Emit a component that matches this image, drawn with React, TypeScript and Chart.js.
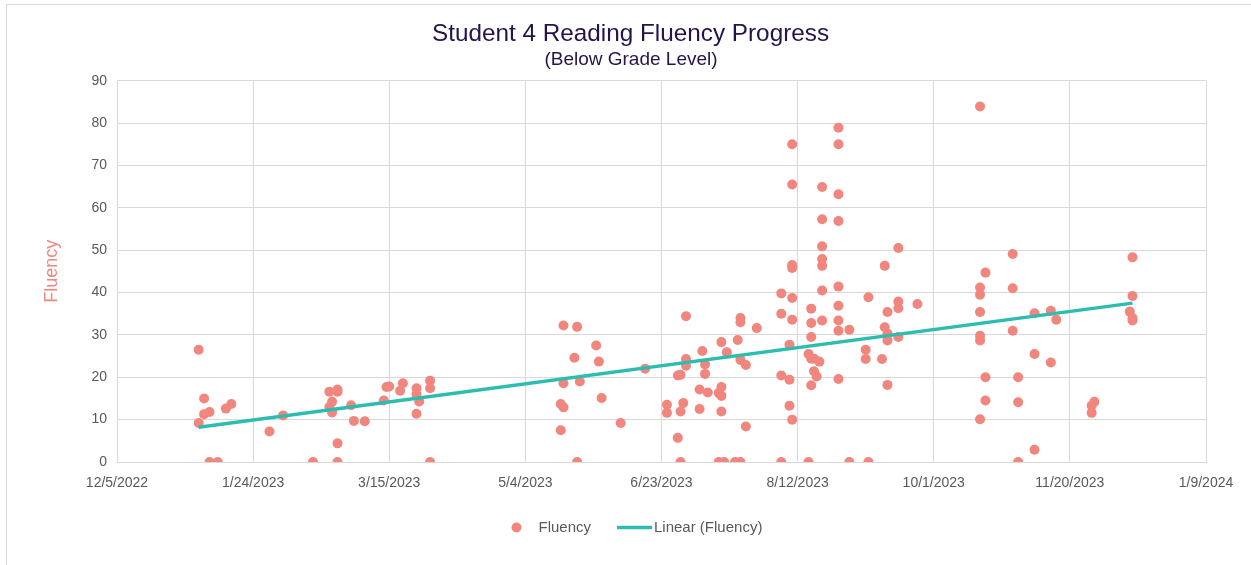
import React, { useEffect, useRef } from "react";
import { Chart, registerables } from "chart.js";

Chart.register(...registerables);

// ---------- text ----------
const TITLE = "Student 4 Reading Fluency Progress";
const SUBTITLE = "(Below Grade Level)";
const SERIES_LABEL = "Fluency";
const TREND_LABEL = "Linear (Fluency)";
const Y_TITLE = "Fluency";

// ---------- data ----------
const testDates: string[] = [
  "2023-01-04", "2023-01-06", "2023-01-08", "2023-01-11", "2023-01-14", "2023-01-16",
  "2023-01-30", "2023-02-04", "2023-02-15", "2023-02-21", "2023-02-22", "2023-02-24",
  "2023-03-01", "2023-03-02", "2023-03-06", "2023-03-13", "2023-03-14", "2023-03-15",
  "2023-03-19", "2023-03-20", "2023-03-25", "2023-03-26", "2023-03-30",
  "2023-05-17", "2023-05-18", "2023-05-22", "2023-05-23", "2023-05-24", "2023-05-30",
  "2023-05-31", "2023-06-01", "2023-06-08", "2023-06-17", "2023-06-25", "2023-06-29",
  "2023-06-30", "2023-07-01", "2023-07-02", "2023-07-07", "2023-07-08", "2023-07-09",
  "2023-07-10", "2023-07-14", "2023-07-15", "2023-07-16", "2023-07-17", "2023-07-20",
  "2023-07-21", "2023-07-22", "2023-07-24", "2023-07-28",
  "2023-08-06", "2023-08-09", "2023-08-10", "2023-08-16", "2023-08-17", "2023-08-18",
  "2023-08-19", "2023-08-20", "2023-08-21", "2023-08-27", "2023-08-31",
  "2023-09-06", "2023-09-07", "2023-09-12", "2023-09-13", "2023-09-14", "2023-09-18",
  "2023-09-25",
  "2023-10-18", "2023-10-20", "2023-10-30", "2023-11-01", "2023-11-07", "2023-11-13",
  "2023-11-15", "2023-11-28", "2023-11-29", "2023-12-12", "2023-12-13",
];

const scoresByDate: number[][] = [
  [26.5, 9.2], [15.0, 11.3], [11.8, 0], [0], [12.6], [13.7],
  [7.2], [11.0], [0], [16.6, 13.0], [14.2, 11.7], [17.1, 16.6, 4.4, 0],
  [13.4], [9.7], [9.6], [14.5], [17.7], [17.8],
  [16.8], [18.6], [17.4, 16.0, 11.4], [14.3], [19.2, 17.4, 0],
  [13.7, 7.5], [32.2, 18.6, 12.9], [24.6], [31.9, 0], [19.0], [27.5],
  [23.7], [15.1], [9.2], [22.0], [13.5, 11.6], [20.4, 5.7],
  [20.6, 11.9, 0], [13.9], [34.4, 24.3, 22.7], [17.1, 12.5], [26.2], [23.0, 20.8],
  [16.4], [16.3, 0], [28.3, 17.7, 15.6, 11.9], [0], [25.9], [0],
  [28.8], [34.0, 33.0, 24.1, 0], [22.9, 8.4], [31.6],
  [39.8, 35.0, 20.4, 0], [27.7, 19.4, 13.3], [75.0, 65.5, 46.5, 45.8, 38.7, 33.6, 10.0],
  [25.5, 0], [36.2, 32.8, 29.5, 24.4, 18.1], [24.4, 21.4],
  [20.2], [23.7], [64.9, 57.3, 50.9, 47.9, 46.3, 40.5, 33.4],
  [78.9, 75.0, 63.2, 56.9, 41.4, 36.9, 33.4, 31.0, 19.6], [31.2, 0],
  [26.5, 24.3], [38.9, 0], [24.3], [46.3, 31.8], [35.4, 30.3, 28.7, 18.2],
  [50.5, 37.9, 36.3, 29.5], [37.3],
  [83.9, 41.2, 39.5, 35.4, 29.8, 28.7, 10.1], [44.7, 20.0, 14.5], [49.1, 41.0, 31.0],
  [20.0, 14.1, 0], [35.1, 25.5, 2.9], [35.7, 23.5], [33.6], [13.3, 11.6], [14.2],
  [35.5], [48.3, 39.2, 34.0, 33.4],
];

// trend line (Linear (Fluency)) end points
const trendDates: string[] = ["2023-01-04", "2023-12-13"];
const trendValues: number[] = [8.2, 37.5];

// axes
const xAxisStart = "2022-12-05";
const xAxisEnd = "2024-01-09";
const xStepDays = 50;
const yMin = 0;
const yMax = 90;
const yStep = 10;

// ---------- styles ----------
const POINT_COLOR = "#F1867F";
const TREND_COLOR = "#2DBDB0";
const GRID_COLOR = "#D9D9D9";
const TICK_COLOR = "#595959";
const TITLE_COLOR = "#25134A";
const FONT = "'Liberation Sans', Arial, sans-serif";

// Excel-style serial day number
const toSerial = (iso: string): number => {
  const [y, m, d] = iso.split("-").map(Number);
  return Math.round((Date.UTC(y, m - 1, d) - Date.UTC(1899, 11, 30)) / 86400000);
};
const serialToLabel = (serial: number): string => {
  const dt = new Date(Date.UTC(1899, 11, 30) + serial * 86400000);
  return `${dt.getUTCMonth() + 1}/${dt.getUTCDate()}/${dt.getUTCFullYear()}`;
};

const titlePlugin = {
  id: "excelTitle",
  afterDraw(chart: any) {
    const ctx = chart.ctx as CanvasRenderingContext2D;
    ctx.save();
    ctx.textAlign = "center";
    ctx.textBaseline = "middle";
    ctx.fillStyle = TITLE_COLOR;
    ctx.font = `24.3px ${FONT}`;
    ctx.fillText(TITLE, 630.5, 34.4);
    ctx.font = `19px ${FONT}`;
    ctx.fillText(SUBTITLE, 631, 60);
    ctx.restore();
  },
};

const legendPlugin = {
  id: "excelLegend",
  afterDraw(chart: any) {
    const ctx = chart.ctx as CanvasRenderingContext2D;
    const y = 527.5;
    ctx.save();
    ctx.font = `15px ${FONT}`;
    ctx.textBaseline = "middle";
    ctx.textAlign = "left";
    ctx.fillStyle = POINT_COLOR;
    ctx.beginPath();
    ctx.arc(516.5, y, 5, 0, Math.PI * 2);
    ctx.fill();
    ctx.fillStyle = TICK_COLOR;
    ctx.fillText(SERIES_LABEL, 538.5, y);
    ctx.strokeStyle = TREND_COLOR;
    ctx.lineWidth = 3.5;
    ctx.beginPath();
    ctx.moveTo(617, y);
    ctx.lineTo(652, y);
    ctx.stroke();
    ctx.fillStyle = TICK_COLOR;
    ctx.fillText(TREND_LABEL, 654, y);
    ctx.restore();
  },
};

export default function App() {
  const canvasRef = useRef<HTMLCanvasElement | null>(null);

  useEffect(() => {
    if (!canvasRef.current) return;
    const points: { x: number; y: number }[] = [];
    testDates.forEach((d, i) => {
      scoresByDate[i].forEach((v) => points.push({ x: toSerial(d), y: v }));
    });
    const trend = trendDates.map((d, i) => ({ x: toSerial(d), y: trendValues[i] }));

    const chart = new Chart(canvasRef.current, {
      type: "scatter",
      data: {
        datasets: [
          {
            label: SERIES_LABEL,
            data: points,
            backgroundColor: POINT_COLOR,
            borderColor: POINT_COLOR,
            borderWidth: 0,
            pointRadius: 5,
            pointHoverRadius: 5,
            order: 1,
          },
          {
            label: TREND_LABEL,
            data: trend,
            showLine: true,
            borderColor: TREND_COLOR,
            backgroundColor: TREND_COLOR,
            borderWidth: 3.5,
            pointRadius: 0,
            order: 0,
          },
        ],
      },
      options: {
        responsive: false,
        animation: false,
        layout: { padding: { left: 38, right: 45, top: 80.7, bottom: 0 } },
        plugins: {
          legend: { display: false },
          tooltip: { enabled: false },
          title: { display: false },
        },
        scales: {
          x: {
            type: "linear",
            min: toSerial(xAxisStart),
            max: toSerial(xAxisEnd),
            afterFit: (s: any) => {
              s.height = 103;
            },
            ticks: {
              stepSize: xStepDays,
              color: TICK_COLOR,
              font: { family: FONT, size: 14 },
              padding: 13,
              maxRotation: 0,
              autoSkip: false,
              callback: (v: any) => serialToLabel(Number(v)),
            },
            grid: { color: GRID_COLOR, lineWidth: 1, drawTicks: false },
            border: { color: GRID_COLOR, width: 1 },
          },
          y: {
            min: yMin,
            max: yMax,
            afterFit: (s: any) => {
              s.width = 79;
            },
            ticks: {
              stepSize: yStep,
              color: TICK_COLOR,
              font: { family: FONT, size: 14 },
              padding: 10,
            },
            grid: { color: GRID_COLOR, lineWidth: 1, drawTicks: false },
            border: { color: GRID_COLOR, width: 1 },
            title: {
              display: true,
              text: Y_TITLE,
              color: POINT_COLOR,
              font: { family: FONT, size: 18 },
              padding: { top: 3, bottom: 0 },
            },
          },
        },
      },
      plugins: [titlePlugin, legendPlugin],
    });
    return () => chart.destroy();
  }, []);

  return (
    <div style={{ position: "absolute", left: 0, top: 0, width: 1251, height: 565, overflow: "hidden", background: "#fff" }}>
      <div
        style={{
          position: "absolute",
          left: 6,
          top: 4,
          width: 1270,
          height: 600,
          border: `1px solid ${GRID_COLOR}`,
          boxSizing: "border-box",
        }}
      />
      <canvas
        ref={canvasRef}
        width={1251}
        height={565}
        style={{ position: "absolute", left: 0, top: 0, width: 1251, height: 565 }}
      />
    </div>
  );
}
